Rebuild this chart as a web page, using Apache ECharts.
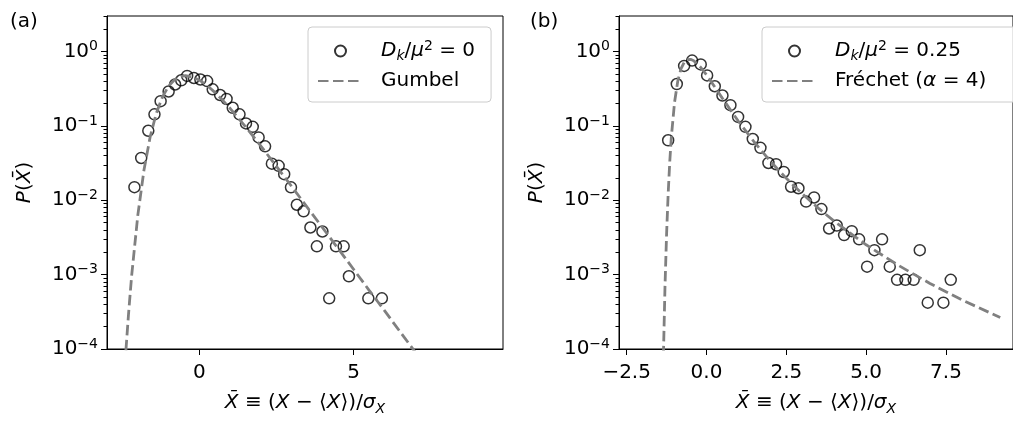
<!DOCTYPE html>
<html>
<head>
<meta charset="utf-8">
<script src="https://cdn.jsdelivr.net/npm/echarts@6/dist/echarts.min.js"></script>
<style>
  html, body { margin: 0; padding: 0; background: #fff; }
  #chart { width: 1013px; height: 421px; }
</style>
</head>
<body>
<div id="chart"></div>
<script>
// panel (a): simulation points and Gumbel curve
var xa = [-2.11, -1.89, -1.66, -1.46, -1.26, -1.00, -0.79, -0.59, -0.40, -0.18, 0.03, 0.25, 0.43, 0.67, 0.88, 1.08, 1.30, 1.51, 1.73, 1.92, 2.13, 2.35, 2.57, 2.75, 2.97, 3.16, 3.38, 3.60, 3.81, 3.99, 4.21, 4.43, 4.68, 4.85, 5.48, 5.92]
var pa = [0.015, 0.037, 0.086, 0.143, 0.215, 0.29, 0.36, 0.41, 0.47, 0.44, 0.42, 0.40, 0.31, 0.26, 0.23, 0.175, 0.143, 0.108, 0.097, 0.070, 0.053, 0.031, 0.029, 0.0224, 0.0149, 0.0087, 0.0071, 0.0043, 0.0024, 0.0038, 0.00048, 0.0024, 0.0024, 0.00095, 0.00048, 0.00048]
var gumbelX = [-2.45, -2.4, -2.3, -2.2, -2.0, -1.8, -1.6, -1.4, -1.2, -1.0, -0.8, -0.6, -0.45, -0.2, 0, 0.25, 0.5, 0.75, 1.0, 1.5, 2.0, 2.5, 3.0, 3.5, 4.0, 4.5, 5.0, 5.5, 6.0, 6.5, 7.0]
var gumbelP = [3.8e-5, 8.0e-5, 3.0e-4, 9.7e-4, 6.3e-3, 0.0255, 0.071, 0.148, 0.245, 0.343, 0.419, 0.462, 0.472, 0.450, 0.411, 0.348, 0.282, 0.222, 0.171, 0.097, 0.0531, 0.0285, 0.0152, 0.0080, 0.00425, 0.00224, 0.00118, 0.00062, 0.00033, 0.000173, 0.000091]

// panel (b): simulation points and Frechet curve
var xb = [-1.20, -0.93, -0.70, -0.45, -0.18, 0.02, 0.26, 0.50, 0.75, 0.99, 1.22, 1.45, 1.69, 1.94, 2.18, 2.42, 2.65, 2.88, 3.12, 3.37, 3.60, 3.84, 4.08, 4.31, 4.55, 4.78, 5.03, 5.26, 5.50, 5.74, 5.97, 6.23, 6.49, 6.68, 6.93, 7.42, 7.65]
var pb = [0.064, 0.365, 0.64, 0.755, 0.67, 0.477, 0.341, 0.256, 0.19, 0.132, 0.097, 0.0666, 0.0506, 0.0317, 0.0305, 0.024, 0.0152, 0.0145, 0.0096, 0.0109, 0.0076, 0.00417, 0.00457, 0.0034, 0.00384, 0.00298, 0.00128, 0.00213, 0.00298, 0.00128, 0.00085, 0.00085, 0.00085, 0.00213, 0.00042, 0.00042, 0.00085]
var frechetX = [-1.36, -1.3, -1.25, -1.2, -1.15, -1.1, -1.0, -0.9, -0.8, -0.7, -0.6, -0.5, -0.4, -0.2, 0, 0.25, 0.5, 1.0, 1.5, 2.0, 2.5, 3.0, 3.5, 4.0, 5.0, 6.0, 7.0, 8.0, 9.2]
var frechetP = [5.0e-5, 6.8e-4, 3.48e-3, 0.0123, 0.0331, 0.0714, 0.208, 0.398, 0.582, 0.713, 0.778, 0.785, 0.751, 0.624, 0.484, 0.338, 0.234, 0.1153, 0.0602, 0.0335, 0.0197, 0.0122, 0.00784, 0.00522, 0.00252, 0.00134, 0.00076, 0.000457, 0.000265]

// ticks
var xTicksA = [0, 5]
var xTicksB = [-2.5, 0, 2.5, 5, 7.5]
var yMajor = [1e-4, 1e-3, 1e-2, 1e-1, 1]
var yMinor = []
yMajor.forEach(function (d) {
  for (var k = 2; k <= 9; k++) {
    if (k * d <= 3) yMinor.push(k * d)
  }
})

var font = 'DejaVu Sans'
var black = '#000'
var gray = '#808080'

function pairs (xs, ys) {
  return xs.map(function (x, i) { return [x, ys[i]] })
}

var rich = {
  i: { fontFamily: font, fontStyle: 'italic', fontSize: 20, color: black },
  sup: { fontFamily: font, fontSize: 14, verticalAlign: 'top', lineHeight: 14, color: black },
  isub: { fontFamily: font, fontStyle: 'italic', fontSize: 14, verticalAlign: 'bottom', lineHeight: 16, color: black }
}
var tickRich = {
  b: { fontFamily: font, fontSize: 20, lineHeight: 24, color: black },
  s: { fontFamily: font, fontSize: 14, verticalAlign: 'top', lineHeight: 14, color: black }
}

function logLabel (v) {
  var e = Math.round(Math.log10(v))
  return '{b|10}{s|' + (e < 0 ? '\u2212' + (-e) : e) + '}'
}

var xName = '{i|X\u0304} \u2261 ({i|X} \u2212 \u27e8{i|X}\u27e9)/{i|\u03c3}{isub|X}'
var yName = '{i|P}({i|X\u0304})'

function xAxis (idx, min, max, ticks, fmt) {
  return {
    type: 'value',
    gridIndex: idx,
    min: min,
    max: max,
    name: xName,
    nameLocation: 'middle',
    nameGap: 41,
    nameTextStyle: { fontFamily: font, fontSize: 20, color: black, lineHeight: 26, rich: rich },
    axisLine: { show: true, onZero: false, lineStyle: { color: black, width: 1 } },
    axisTick: { show: true, customValues: ticks, length: 6, lineStyle: { color: black, width: 1 } },
    axisLabel: { show: true, customValues: ticks, margin: 14, fontFamily: font, fontSize: 20, color: black, formatter: fmt },
    splitLine: { show: false }
  }
}

function yAxes (idx) {
  return [{
    type: 'log',
    logBase: 10,
    gridIndex: idx,
    position: 'left',
    min: 1e-4,
    max: 3,
    name: yName,
    nameLocation: 'middle',
    nameRotate: 90,
    nameGap: 72,
    nameTextStyle: { fontFamily: font, fontSize: 20, color: black, rich: rich },
    axisLine: { show: true, onZero: false, lineStyle: { color: black, width: 1 } },
    axisTick: { show: true, customValues: yMajor, length: 6, lineStyle: { color: black, width: 1 } },
    axisLabel: { show: true, customValues: yMajor, margin: 9, formatter: logLabel, rich: tickRich },
    splitLine: { show: false }
  }, {
    // minor ticks only
    type: 'log',
    logBase: 10,
    gridIndex: idx,
    position: 'left',
    offset: 0,
    min: 1e-4,
    max: 3,
    axisLine: { show: false, onZero: false },
    axisTick: { show: true, customValues: yMinor, length: 3.5, lineStyle: { color: black, width: 1 } },
    axisLabel: { show: false },
    splitLine: { show: false }
  }]
}

function legend (left, names, padRight) {
  return {
    left: left,
    top: 27,
    orient: 'vertical',
    selectedMode: false,
    data: names,
    itemWidth: 45,
    itemHeight: 11,
    itemGap: 6,
    padding: [12, padRight, 9, 9],
    backgroundColor: 'rgba(255,255,255,0.8)',
    borderColor: '#cccccc',
    borderWidth: 1,
    borderRadius: 4,
    formatter: function (name) { return labels[name] },
    textStyle: { fontFamily: font, fontSize: 20, color: black, lineHeight: 24, padding: [0, 0, 0, 13], rich: rich }
  }
}

var labels = {
  sa: '{i|D}{isub|k}/{i|\u03bc}{sup|2} = 0',
  ga: 'Gumbel',
  sb: '{i|D}{isub|k}/{i|\u03bc}{sup|2} = 0.25',
  fb: 'Fr\u00e9chet ({i|\u03b1} = 4)'
}

var scatterStyle = { color: 'rgba(0,0,0,0)', borderColor: black, borderWidth: 1.5 }
var dashStyle = { color: gray, width: 2.8, type: [10.5, 4.5] }
// hide the dot ECharts puts in a line legend icon
var noDot = { color: 'rgba(0,0,0,0)', borderWidth: 0, opacity: 0 }

var myChart = echarts.init(document.getElementById('chart'))
var option = {
  backgroundColor: '#fff',
  animation: false,
  title: [
    { text: '(a)', left: 10, top: 12, padding: 0, textStyle: { fontFamily: font, fontSize: 20, fontWeight: 'normal', color: black } },
    { text: '(b)', left: 530, top: 12, padding: 0, textStyle: { fontFamily: font, fontSize: 20, fontWeight: 'normal', color: black } }
  ],
  grid: [
    { left: 107, top: 16, width: 396, height: 338, show: true, borderColor: black, borderWidth: 1, backgroundColor: 'transparent' },
    { left: 619, top: 16, width: 396, height: 338, show: true, borderColor: black, borderWidth: 1, backgroundColor: 'transparent' }
  ],
  xAxis: [
    xAxis(0, -3, 9.85, xTicksA, function (v) { return v < 0 ? '\u2212' + (-v) : String(v) }),
    xAxis(1, -2.74, 9.6, xTicksB, function (v) { return (v < 0 ? '\u2212' : '') + Math.abs(v).toFixed(1) })
  ],
  yAxis: yAxes(0).concat(yAxes(1)),
  legend: [legend(308, ['sa', 'ga'], 16), legend(762, ['sb', 'fb'], 34)],
  series: [
    { name: 'sa', type: 'scatter', xAxisIndex: 0, yAxisIndex: 0, symbol: 'circle', symbolSize: 11, itemStyle: scatterStyle, data: pairs(xa, pa) },
    { name: 'ga', type: 'line', xAxisIndex: 0, yAxisIndex: 0, symbol: 'none', clip: true, itemStyle: noDot, lineStyle: dashStyle, data: pairs(gumbelX, gumbelP) },
    { name: 'sb', type: 'scatter', xAxisIndex: 1, yAxisIndex: 2, symbol: 'circle', symbolSize: 11, itemStyle: scatterStyle, data: pairs(xb, pb) },
    { name: 'fb', type: 'line', xAxisIndex: 1, yAxisIndex: 2, symbol: 'none', clip: true, itemStyle: noDot, lineStyle: dashStyle, data: pairs(frechetX, frechetP) }
  ]
}
myChart.setOption(option)
</script>
</body>
</html>
